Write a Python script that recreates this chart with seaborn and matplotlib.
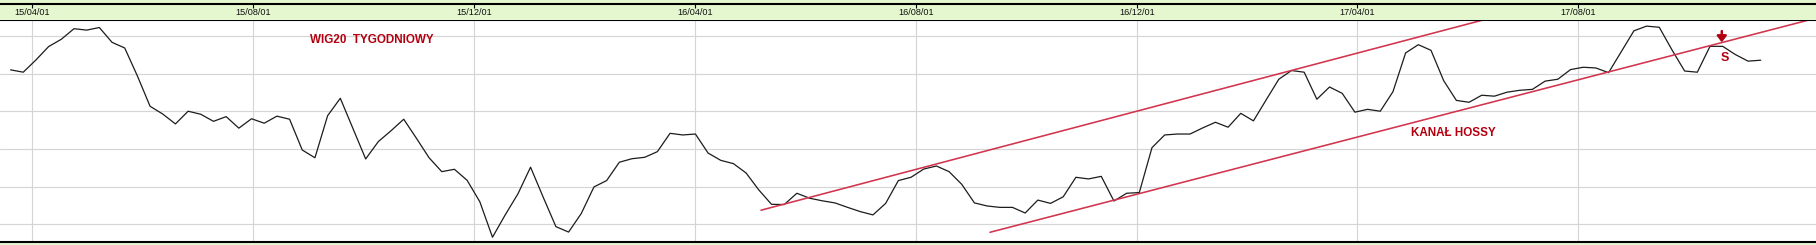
import matplotlib
matplotlib.use('Agg')
import matplotlib.pyplot as plt
import matplotlib.dates as mdates
import seaborn as sns
import pandas as pd

# ---------------- data ----------------
start_date = '2015-03-20'   # first weekly close (Friday)
wig20 = [2417, 2407, 2459, 2516, 2547, 2592, 2586, 2597, 2534, 2510,
         2391, 2262, 2229, 2187, 2241, 2228, 2198, 2218, 2169, 2209,
         2190, 2220, 2207, 2076, 2043, 2222, 2296, 2167, 2038, 2112,
         2158, 2207, 2126, 2043, 1984, 1994, 1947, 1856, 1705, 1800,
         1889, 2003, 1875, 1750, 1727, 1806, 1919, 1946, 2024, 2039,
         2045, 2069, 2147, 2140, 2144, 2063, 2032, 2018, 1978, 1906,
         1845, 1844, 1892, 1871, 1860, 1851, 1832, 1814, 1800, 1849,
         1946, 1960, 1995, 2008, 1984, 1930, 1851, 1838, 1832, 1832,
         1808, 1863, 1849, 1877, 1960, 1953, 1964, 1859, 1892, 1895,
         2086, 2140, 2144, 2144, 2170, 2194, 2173, 2232, 2200, 2289,
         2377, 2414, 2407, 2292, 2344, 2317, 2237, 2249, 2241, 2324,
         2489, 2524, 2500, 2371, 2287, 2279, 2309, 2305, 2322, 2330,
         2334, 2369, 2377, 2418, 2428, 2425, 2405, 2494, 2583, 2603,
         2598, 2502, 2412, 2407, 2517, 2517, 2482, 2454, 2458]

tick_dates = ['2015-04-01', '2015-08-01', '2015-12-01', '2016-04-01',
              '2016-08-01', '2016-12-01', '2017-04-01', '2017-08-01']
tick_labels = ['15/04/01', '15/08/01', '15/12/01', '16/04/01',
               '16/08/01', '16/12/01', '17/04/01', '17/08/01']
grid_levels = [1760, 1920, 2080, 2240, 2400, 2560]

upper_channel_dates = ['2016-05-07 05:00', '2017-06-09 05:00']
upper_channel_values = [1820, 2628]
lower_channel_dates = ['2016-09-10 14:00', '2017-12-05 14:00']
lower_channel_values = [1726, 2627]

title_text = 'WIG20  TYGODNIOWY'
title_pos = ('2015-09-01', 2543)
channel_text = 'KANAŁ HOSSY'
channel_pos = ('2017-04-30 19:00', 2147)
signal_text = 'S'
signal_pos = ('2017-10-20 22:00', 2466)
arrow_date = '2017-10-19 12:00'
arrow_from, arrow_to = 2582, 2534

# ---------------- style ----------------
GREEN = '#e4f7cf'
RED_TXT = '#b3000f'
RED_LINE = '#d2344e'

sns.set_style('white')
plt.rcParams['font.family'] = ['Liberation Sans', 'DejaVu Sans']

fig = plt.figure(figsize=(18.16, 2.45), dpi=100, facecolor=GREEN)
H = 245.0
ax = fig.add_axes([0, (H - 241.7) / H, 1, 221.7 / H])
axh = fig.add_axes([0, (H - 20.0) / H, 1, 15.7 / H], sharex=ax)

df = pd.DataFrame({'date': pd.date_range(start_date, periods=len(wig20), freq='7D'),
                   'value': wig20})
sns.lineplot(data=df, x='date', y='value', ax=ax, color='#1c1c1c', lw=0.9)
sns.lineplot(x=pd.to_datetime(upper_channel_dates), y=upper_channel_values,
             ax=ax, color=RED_LINE, lw=1.15)
sns.lineplot(x=pd.to_datetime(lower_channel_dates), y=lower_channel_values,
             ax=ax, color=RED_LINE, lw=1.15)

ax.set_xlim(mdates.date2num(pd.Timestamp('2015-03-14 04:00')),
            mdates.date2num(pd.Timestamp('2017-12-10 12:00')))
ax.set_ylim(1686, 2629)
ax.set_xticks(mdates.date2num(pd.to_datetime(tick_dates)))
ax.set_yticks(grid_levels)
ax.grid(True, color='#d5d5d5', lw=0.85)
ax.set_axisbelow(True)
ax.tick_params(length=0, labelbottom=False, labelleft=False)
ax.set_xlabel('')
ax.set_ylabel('')
ax.set_facecolor('white')
for s in ['left', 'right']:
    ax.spines[s].set_visible(False)
for s in ['top', 'bottom']:
    ax.spines[s].set_color('black')
    ax.spines[s].set_linewidth(1.5)

# annotations
ax.text(mdates.date2num(pd.Timestamp(title_pos[0])), title_pos[1], title_text,
        color=RED_TXT, fontsize=8.4, fontweight='bold', ha='left', va='center')
ax.text(mdates.date2num(pd.Timestamp(channel_pos[0])), channel_pos[1], channel_text,
        color=RED_TXT, fontsize=8.4, fontweight='bold', ha='left', va='center')
ax.text(mdates.date2num(pd.Timestamp(signal_pos[0])), signal_pos[1], signal_text,
        color=RED_TXT, fontsize=9, fontweight='bold', ha='center', va='center')
xa = mdates.date2num(pd.Timestamp(arrow_date))
ax.annotate('', xy=(xa, arrow_to), xytext=(xa, arrow_from),
            arrowprops=dict(arrowstyle='-|>,head_length=0.45,head_width=0.35',
                            color=RED_TXT, lw=1.8, mutation_scale=8,
                            shrinkA=0, shrinkB=0))

# header strip with date labels
axh.set_facecolor(GREEN)
axh.set_ylim(0, 1)
axh.set_yticks([])
axh.tick_params(axis='x', direction='in', length=3, width=0.8, color='black',
                top=True, bottom=False, labelbottom=False, labeltop=False)
axh.grid(False)
for s in ['left', 'right', 'bottom']:
    axh.spines[s].set_visible(False)
axh.spines['top'].set_color('black')
axh.spines['top'].set_linewidth(1.5)
for d, lab in zip(tick_dates, tick_labels):
    axh.text(mdates.date2num(pd.Timestamp(d)), 0.45, lab, fontsize=6.6,
             color='#111111', ha='center', va='center',
             transform=axh.get_xaxis_transform())

fig.savefig('out.png', dpi=100, facecolor=GREEN)
